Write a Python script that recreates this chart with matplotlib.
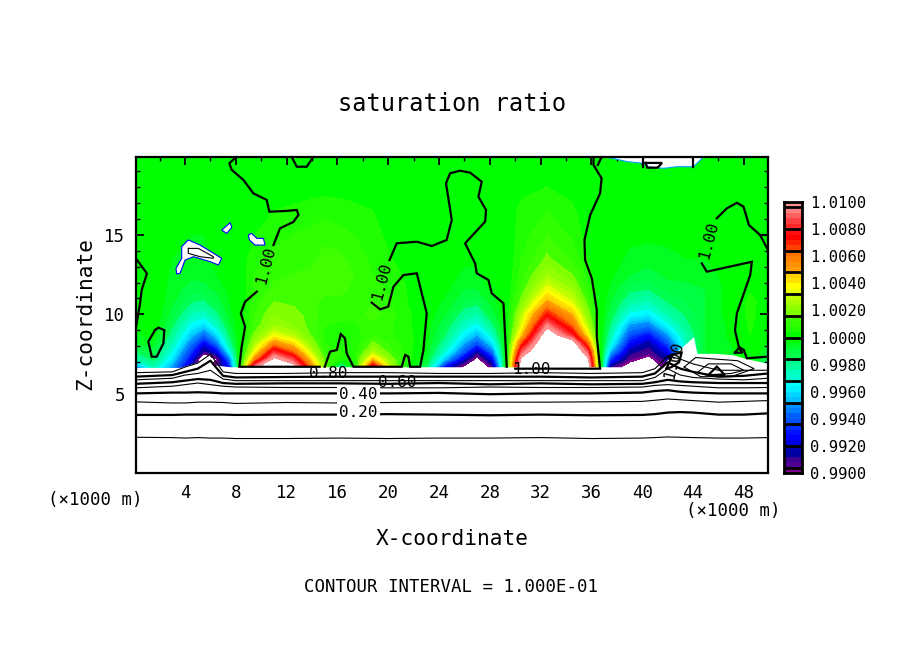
import numpy as np
import matplotlib
matplotlib.use('Agg')
import matplotlib.pyplot as plt

W, H = 904, 654
plt.rcParams['font.family'] = 'DejaVu Sans Mono'

# saturation ratio field, stored as (S - 1) * 1e4
FIELD_X = [0.1, 1.5, 3, 4.5, 5.5, 6.5, 7.5, 8.3, 9.5, 11, 12.5, 14, 15, 16.3, 17.3, 18.8, 20.3, 21.8, 23,
           24.5, 26, 27, 28.2, 29.3, 30.5, 32.5, 34.5, 35.7, 36.7, 37.5, 39, 40.5, 42, 43.5, 45, 47, 48.5, 49.9]
FIELD_Z = [6.7, 7.2, 7.7, 8.2, 8.7, 9.3, 10, 10.8, 11.6, 12.5, 13.5, 15, 16.5, 18, 19.87]
FIELD = [
    [-55,-25,-50,-85,-105,-95,-70,0,95,130,110,55,20,-30,0,85,25,-5,-15,-75,-105,-115,-95,0,120,130,130,120,0,-90,-108,-112,-95,-20,-12,-12,0,-45],
    [-25,-15,-40,-75,-120,-100,-55,0,55,105,85,40,15,5,5,45,18,5,-8,-45,-80,-105,-75,0,105,130,130,105,0,-65,-95,-105,-85,-30,-10,-8,0,-15],
    [-15,-10,-32,-65,-90,-75,-35,0,35,80,60,28,10,8,5,25,12,5,-5,-30,-60,-85,-55,0,85,130,125,85,0,-45,-85,-92,-75,-28,-8,-5,2,-8],
    [-8,-6,-25,-55,-75,-55,-22,0,25,55,42,20,8,6,5,17,10,5,-3,-22,-48,-62,-40,0,65,125,112,60,0,-32,-72,-85,-62,-25,-8,-4,3,-5],
    [-5,-2,-20,-45,-58,-42,-15,0,18,35,28,15,7,5,5,12,8,5,-2,-16,-38,-48,-28,0,45,115,80,40,0,-24,-62,-72,-50,-22,-8,-3,4,-3],
    [-2,0,-15,-35,-42,-28,-10,0,13,24,20,14,8,7,7,11,8,4,-2,-12,-28,-35,-18,0,34,95,62,28,0,-18,-50,-55,-35,-18,-8,-3,5,-2],
    [0,0,-10,-25,-28,-18,-6,0,12,20,18,14,10,9,9,14,9,4,-1,-8,-20,-24,-10,0,28,72,48,20,0,-12,-34,-38,-24,-15,-8,-2,6,-1],
    [0,0,-7,-16,-17,-11,-4,0,10,16,15,13,11,11,11,12,8,3,-1,-5,-12,-14,-6,0,18,50,32,14,0,-8,-22,-25,-16,-12,-8,-2,6,0],
    [0,0,-6,-10,-10,-7,-3,0,9,13,13,13,13,13,11,10,7,3,-1,-3,-8,-8,-3,0,13,35,23,9,0,-5,-14,-16,-10,-10,-8,-2,3,0],
    [0,0,-5,-7,-6,-4,-1,1,8,11,12,13,15,15,12,8,5,3,0,-2,-5,-5,-2,0,10,24,16,6,0,-3,-8,-10,-7,-6,-6,-2,1,0],
    [0,0,-4,-5,-5,-3,0,1,7,9,11,11,14,13,10,7,4,2,0,-1,-3,-3,-1,0,8,17,11,4,0,-2,-5,-6,-5,-4,-4,-2,0,0],
    [0,0,-3,-4,-4,-2,0,1,4,7,8,9,10,9,8,5,3,1,0,0,-2,-2,0,1,6,12,7,2,0,-1,-3,-3,-3,-3,-2,-1,0,0],
    [0,0,-1,-2,-2,-1,0,0,2,4,5,6,7,6,5,4,2,3,1,-1,-2,-1,1,2,5,8,5,1,0,-1,-1,-2,-2,-2,-1,0,0,0],
    [0,0,0,0,0,0,0,0,0,1,1,2,2,2,2,1,1,1,1,0,-1,0,1,2,3,4,2,0,-1,0,0,-1,-1,-1,0,0,0,0],
    [0,0,0,0,0,0,0,0,0,0,0,0,0,0,0,0,0,0,0,0,0,0,0,0,1,1,1,0,0,-1,-1,-2,-2,-1,0,0,0,0],
]

# 50 shading bands, bottom to top
BAND_COLORS = [
    '#800090',
    '#500090', '#400090', '#0000a0', '#0000b0',
    '#0000e0', '#0000ff', '#0010ff', '#0030ff',
    '#0050ff', '#0060ff', '#0080ff', '#0090ff',
    '#00c0ff', '#00d8ff', '#00f0ff', '#00ffff',
    '#00ffd0', '#00ffc0', '#00ffa0', '#00ff90',
    '#00ff50', '#00ff40', '#00ff20', '#00ff00',
    '#00ff00', '#20ff00', '#30ff00', '#40ff00',
    '#80ff00', '#90ff00', '#a8ff00', '#c0ff00',
    '#e8ff00', '#ffff00', '#ffe000', '#ffd000',
    '#ffa000', '#ff9000', '#ff8000', '#ff7000',
    '#ff4000', '#ff2000', '#ff0000', '#ff1010',
    '#ff2828', '#ff4040', '#ff6060', '#ff8080',
    '#ff9090',
]

# white areas outside the shading range
SURFACE_X = [0.1, 3.6, 4.92, 5.97, 5.84, 6.36, 7.55, 41.67, 41.93, 42.72, 44.03, 44.3, 45.87, 47.2, 48.1, 49.9]
SURFACE_Z = [6.68, 6.68, 7.0, 7.56, 6.94, 6.83, 6.72, 6.72, 7.14, 7.67, 8.6, 7.56, 7.56, 7.46, 7.25, 6.93]
BLOBS = [
    [(3.74, 14.25), (4.26, 14.67), (5.18, 14.35), (6.89, 13.52), (6.63, 13.1), (5.97, 13.31), (4.66, 13.62),
     (4.0, 13.41), (3.61, 12.58), (3.35, 12.54), (3.29, 12.89), (3.74, 13.52)],
    [(6.89, 15.29), (7.55, 15.75), (7.68, 15.46), (7.28, 15.08)],
    [(8.99, 14.98), (9.25, 15.08), (9.65, 14.77), (10.17, 14.77), (10.3, 14.35), (9.51, 14.35), (9.07, 14.67)],
    [(37.2, 19.87), (38.8, 19.58), (40.1, 19.47), (40.4, 19.26), (41.67, 19.16), (42.72, 19.26), (44.03, 19.26), (44.82, 19.87)],
]

# traced 1.00 contour
CONTOURS_100 = [
    [(8.02, 19.87), (7.49, 19.47), (7.68, 19.06), (8.6, 18.43), (9.38, 17.59), (10.43, 17.18), (10.64, 16.44),
     (12.0, 16.49), (12.8, 16.55), (12.93, 16.23), (12.53, 15.8), (11.48, 15.4), (10.96, 14.35)],
    [(9.65, 11.43), (8.73, 10.8), (8.39, 10.07), (8.73, 9.23), (8.46, 7.98), (8.28, 6.72), (14.6, 6.72)],
    [(15.0, 6.72), (15.42, 7.67), (15.95, 7.77), (16.26, 8.77), (16.6, 8.5), (16.73, 7.56), (17.26, 6.72), (21.06, 6.72),
     (21.33, 7.46), (21.59, 7.35), (21.72, 6.72), (22.51, 6.72), (22.77, 7.77), (23.03, 10.07), (22.25, 12.58),
     (21.2, 12.47), (20.41, 11.74), (20.0, 10.49), (19.36, 10.32), (18.7, 10.74)],
    [(20.1, 13.41), (20.67, 14.46), (22.25, 14.56), (23.43, 14.29), (24.6, 14.67), (25.0, 15.92), (24.55, 18.22),
     (24.87, 18.85), (25.66, 19.01), (26.45, 18.89), (27.36, 18.32), (27.1, 17.38), (27.7, 16.55), (27.63, 15.82),
     (26.05, 14.46), (26.84, 13.2), (26.97, 12.58), (27.89, 12.16), (28.15, 11.32), (29.07, 10.7), (29.33, 6.72)],
    [(36.16, 19.87), (36.16, 19.37), (36.8, 18.53), (36.68, 17.59), (35.9, 16.23), (35.45, 14.67), (35.5, 13.41),
     (36.03, 12.26), (36.42, 10.28), (36.42, 8.6), (36.68, 6.6), (30.0, 6.6)],
    [(36.5, 19.37), (36.8, 19.87)],
    [(49.9, 14.04), (49.28, 14.98), (48.4, 15.6), (47.97, 16.76), (47.45, 17.0), (46.66, 16.65), (45.87, 16.03)],
    [(44.69, 13.2), (45.08, 12.68), (46.9, 13.0), (48.63, 13.3), (48.5, 12.47), (47.45, 10.07), (47.3, 9.0), (47.6, 7.98),
     (48.0, 7.77), (48.23, 7.25), (49.8, 7.35), (49.9, 7.35)],
    [(49.28, 14.98), (49.9, 14.98)],
    [(0.14, 13.5), (1.0, 12.57), (0.59, 11.53), (0.46, 10.7), (0.14, 9.2)],
    [(1.64, 9.02), (1.11, 8.29), (1.38, 7.35), (1.77, 7.35), (2.3, 8.19), (2.37, 9.02), (1.9, 9.17), (1.64, 9.02)],
    [(12.4, 19.87), (12.8, 19.26), (13.58, 19.26), (14.1, 19.87)],
    [(40.05, 19.87), (40.05, 19.26)],
    [(40.27, 19.5), (41.56, 19.5), (41.2, 19.2), (40.4, 19.2), (40.27, 19.5)],
    [(44.03, 19.87), (44.03, 19.26)],
    [(47.3, 7.6), (47.6, 7.9), (47.9, 7.6), (47.3, 7.6)],
]
# thin contours in the small closed cells
CONTOURS_THIN = [
    [(4.26, 14.14), (5.05, 14.14), (6.23, 13.62), (6.23, 13.52), (5.18, 13.62), (4.26, 13.83), (4.26, 14.14)],
    [(43.3, 6.7), (44.2, 7.3), (45.8, 7.2), (47.5, 7.1), (48.8, 6.6), (47.0, 6.1), (44.6, 6.1), (43.3, 6.7)],
    [(44.4, 6.4), (45.2, 6.9), (47.0, 6.9), (48.0, 6.5), (47.0, 6.3), (45.0, 6.2), (44.4, 6.4)],
]
CONTOUR_TRIANGLE = [(45.2, 6.2), (45.87, 6.73), (46.5, 6.2), (45.2, 6.2)]
CONTOUR_CELL = [(41.9, 6.6), (42.4, 7.5), (43.1, 7.6), (42.9, 7.0), (42.3, 6.7), (41.9, 6.6)]

# nearly flat contours below the cloud layer
LOW_X = [0.1, 3, 4, 5, 6, 7, 8, 12, 16, 20, 24, 28, 32, 36, 40, 41, 42, 43, 44, 46, 48, 49.9]
LOW_LEVELS = [
    (0.1, [2.3, 2.28, 2.25, 2.28, 2.25, 2.25, 2.22, 2.22, 2.25, 2.22, 2.25, 2.25, 2.28, 2.22, 2.25, 2.28, 2.32, 2.3, 2.28, 2.25, 2.25, 2.28]),
    (0.2, [3.7, 3.7, 3.72, 3.72, 3.72, 3.72, 3.7, 3.72, 3.72, 3.75, 3.72, 3.68, 3.72, 3.68, 3.7, 3.75, 3.85, 3.88, 3.85, 3.72, 3.72, 3.8]),
    (0.3, [4.52, 4.45, 4.45, 4.5, 4.5, 4.48, 4.42, 4.48, 4.45, 4.48, 4.5, 4.5, 4.5, 4.52, 4.55, 4.62, 4.7, 4.65, 4.6, 4.5, 4.55, 4.6]),
    (0.4, [5.05, 5.1, 5.1, 5.12, 5.1, 5.05, 5.05, 5.05, 5.05, 5.05, 5.08, 5.0, 5.05, 5.05, 5.1, 5.2, 5.25, 5.15, 5.1, 5.05, 5.05, 5.05]),
    (0.5, [5.4, 5.5, 5.6, 5.7, 5.6, 5.5, 5.45, 5.42, 5.42, 5.4, 5.4, 5.45, 5.42, 5.42, 5.45, 5.55, 5.6, 5.55, 5.5, 5.4, 5.4, 5.42]),
    (0.6, [5.65, 5.75, 5.85, 5.95, 5.9, 5.7, 5.65, 5.68, 5.68, 5.65, 5.7, 5.62, 5.68, 5.62, 5.65, 5.75, 5.9, 5.8, 5.75, 5.7, 5.7, 5.7]),
    (0.7, [5.9, 6.0, 6.2, 6.3, 6.5, 5.95, 5.85, 5.85, 5.85, 5.85, 5.85, 5.85, 5.85, 5.85, 5.85, 6.05, 6.6, 6.2, 6.05, 5.95, 5.9, 6.0]),
    (0.8, [6.1, 6.2, 6.4, 6.6, 7.1, 6.15, 6.05, 6.08, 6.1, 6.1, 6.1, 6.1, 6.1, 6.05, 6.1, 6.3, 7.0, 6.6, 6.4, 6.1, 6.15, 6.3]),
    (0.9, [6.35, 6.4, 6.7, 6.95, 7.5, 6.4, 6.3, 6.3, 6.35, 6.35, 6.3, 6.3, 6.35, 6.3, 6.35, 6.6, 7.4, 7.2, 6.9, 6.5, 6.5, 6.5]),
]

LINE_LABELS = [
    ('0.20', 17.66, 3.85, 0, True), ('0.40', 17.66, 5.0, 0, True), ('0.60', 20.7, 5.72, 0, False),
    ('0.80', 15.3, 6.3, 0, False), ('1.00', 31.3, 6.56, 0, False), ('1.00', 10.35, 13.1, 75, False),
    ('1.00', 19.49, 12.05, 75, False), ('1.00', 45.2, 14.67, 75, False), ('1.00', 42.5, 7.1, 75, False),
]

X_TICKS = [4, 8, 12, 16, 20, 24, 28, 32, 36, 40, 44, 48]
Z_TICKS = [5, 10, 15]
CBAR_LABELS = ['0.9900', '0.9920', '0.9940', '0.9960', '0.9980', '1.0000',
               '1.0020', '1.0040', '1.0060', '1.0080', '1.0100']

levels = np.linspace(-100, 100, 51)
field = np.array(FIELD, dtype=float)

fig = plt.figure(figsize=(W / 100, H / 100), dpi=100, facecolor='white')


def px_axes(x0, y0, x1, y1):
    return fig.add_axes([x0 / W, 1 - y1 / H, (x1 - x0) / W, (y1 - y0) / H])


def px_text(x, y, s, size, **kw):
    fig.text(x / W, 1 - y / H, s, fontsize=size, ha='center', va='center', **kw)


ax = px_axes(136, 157, 768, 473)
ax.set_xlim(0.14, 49.9)
ax.set_ylim(0.06, 19.87)
ax.contourf(FIELD_X, FIELD_Z, field, levels=levels, colors=BAND_COLORS, zorder=1)

ax.fill_between(SURFACE_X, 0, SURFACE_Z, color='white', lw=0, zorder=2)
for blob in BLOBS:
    xs, zs = zip(*blob)
    ax.fill(xs, zs, facecolor='white', edgecolor='#0000ff' if blob is not BLOBS[3] else '#00a0ff', lw=0.8, zorder=2)

for line in CONTOURS_100 + [CONTOUR_TRIANGLE, CONTOUR_CELL]:
    xs, zs = zip(*line)
    ax.plot(xs, zs, color='black', lw=1.6, zorder=3, solid_joinstyle='miter')
for line in CONTOURS_THIN:
    xs, zs = zip(*line)
    ax.plot(xs, zs, color='black', lw=0.8, zorder=3)
for value, zs in LOW_LEVELS:
    thick = round(value * 10) % 2 == 0
    ax.plot(LOW_X, zs, color='black', lw=1.6 if thick else 0.8, zorder=3)

for s, x, z, rot, masked in LINE_LABELS:
    bbox = dict(facecolor='white', edgecolor='none', pad=1.5) if masked else None
    ax.text(x, z, s, fontsize=11.5, rotation=rot, ha='center', va='center', zorder=4, bbox=bbox)

ax.set_xticks(X_TICKS)
ax.set_yticks(Z_TICKS)
ax.set_xticks(np.arange(2, 50, 4), minor=True)
ax.set_yticks([z for z in range(1, 20) if z % 5], minor=True)
ax.tick_params(which='major', direction='in', length=6, width=1.3, top=True, right=True, labelsize=12.5, pad=8)
ax.tick_params(which='minor', direction='in', length=3, width=1, top=True, right=True)
for side in ax.spines.values():
    side.set_linewidth(1.6)
    side.set_zorder(6)

# colour bar
cax = px_axes(784, 202, 802, 473)
cax.pcolormesh([0, 1], np.linspace(-100, 100, 51), np.arange(50).reshape(-1, 1),
               cmap=matplotlib.colors.ListedColormap(BAND_COLORS), vmin=-0.5, vmax=49.5)
for k in range(13):
    cax.axhline(-96 + 16 * k, color='black', lw=2)
cax.set_xticks([])
cax.set_yticks(np.linspace(-100, 100, 11))
cax.set_yticklabels(CBAR_LABELS)
cax.yaxis.tick_right()
cax.tick_params(length=0, labelsize=11.2, pad=6)
for side in cax.spines.values():
    side.set_linewidth(2)

px_text(452, 104, 'saturation ratio', 17)
px_text(452, 539, 'X-coordinate', 15.2)
px_text(85, 314, 'Z-coordinate', 15.2, rotation=90)
px_text(95, 500, '(×1000 m)', 12.5)
px_text(733, 511, '(×1000 m)', 12.5)
px_text(451, 587, 'CONTOUR INTERVAL = 1.000E-01', 12.5)

fig.savefig('out.png', dpi=100)
